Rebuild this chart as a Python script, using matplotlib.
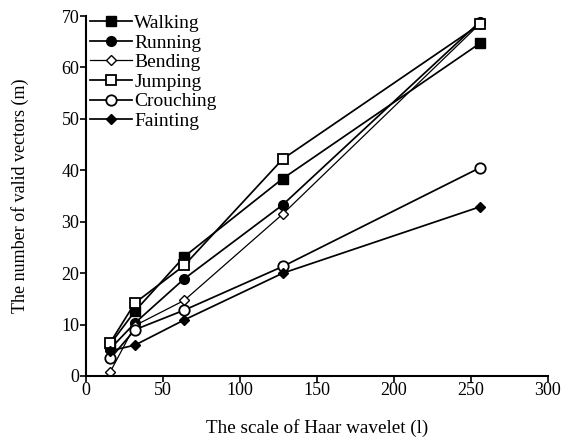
import matplotlib
matplotlib.use('Agg')
import matplotlib.pyplot as plt

# scale of Haar wavelet
scales = [16, 32, 64, 128, 256]

walking = [6.2, 12.6, 23.2, 38.4, 64.7]
running = [5.3, 10.3, 18.9, 33.3, 68.9]
bending = [0.8, 9.8, 14.7, 31.5, 68.5]
jumping = [6.5, 14.2, 21.5, 42.2, 68.4]
crouching = [3.4, 9.0, 12.8, 21.3, 40.5]
fainting = [4.9, 6.0, 10.9, 20.0, 32.9]

plt.rcParams['font.family'] = 'Liberation Serif'
plt.rcParams['font.size'] = 12

fig = plt.figure(figsize=(5.67, 4.4), dpi=100)
ax = fig.add_axes([0.151, 0.1455, 0.815, 0.818])

ax.plot(scales, walking, color='black', lw=1.25, marker='s', ms=7, mfc='black', label='Walking')
ax.plot(scales, running, color='black', lw=1.25, marker='o', ms=7, mfc='black', label='Running')
ax.plot(scales, bending, color='black', lw=0.9, marker='D', ms=5, mfc='white', mew=1.0, label='Bending')
ax.plot(scales, jumping, color='black', lw=1.25, marker='s', ms=7.5, mfc='white', mew=1.3, label='Jumping')
ax.plot(scales, crouching, color='black', lw=1.25, marker='o', ms=7.5, mfc='white', mew=1.3, label='Crouching')
ax.plot(scales, fainting, color='black', lw=1.25, marker='D', ms=5, mfc='black', label='Fainting')

ax.set_xlim(0, 300)
ax.set_ylim(0, 70)
ax.set_xticks(range(0, 301, 50))
ax.set_yticks(range(0, 71, 10))
ax.spines['top'].set_visible(False)
ax.spines['right'].set_visible(False)
ax.spines['left'].set_linewidth(1.5)
ax.spines['bottom'].set_linewidth(1.5)
ax.tick_params(direction='out', length=4, width=1.2, labelsize=13, pad=0.5)

ax.set_xlabel('The scale of Haar wavelet (l)', fontsize=13.8, labelpad=14)
ax.set_ylabel('The number of valid vectors (m)', fontsize=13, labelpad=23)

ax.legend(loc='upper left', frameon=False, fontsize=14, handlelength=2.15,
          labelspacing=0.1, borderaxespad=0.0, handletextpad=0.15,
          bbox_to_anchor=(-0.008, 1.026))

fig.savefig('out.png', dpi=100)
